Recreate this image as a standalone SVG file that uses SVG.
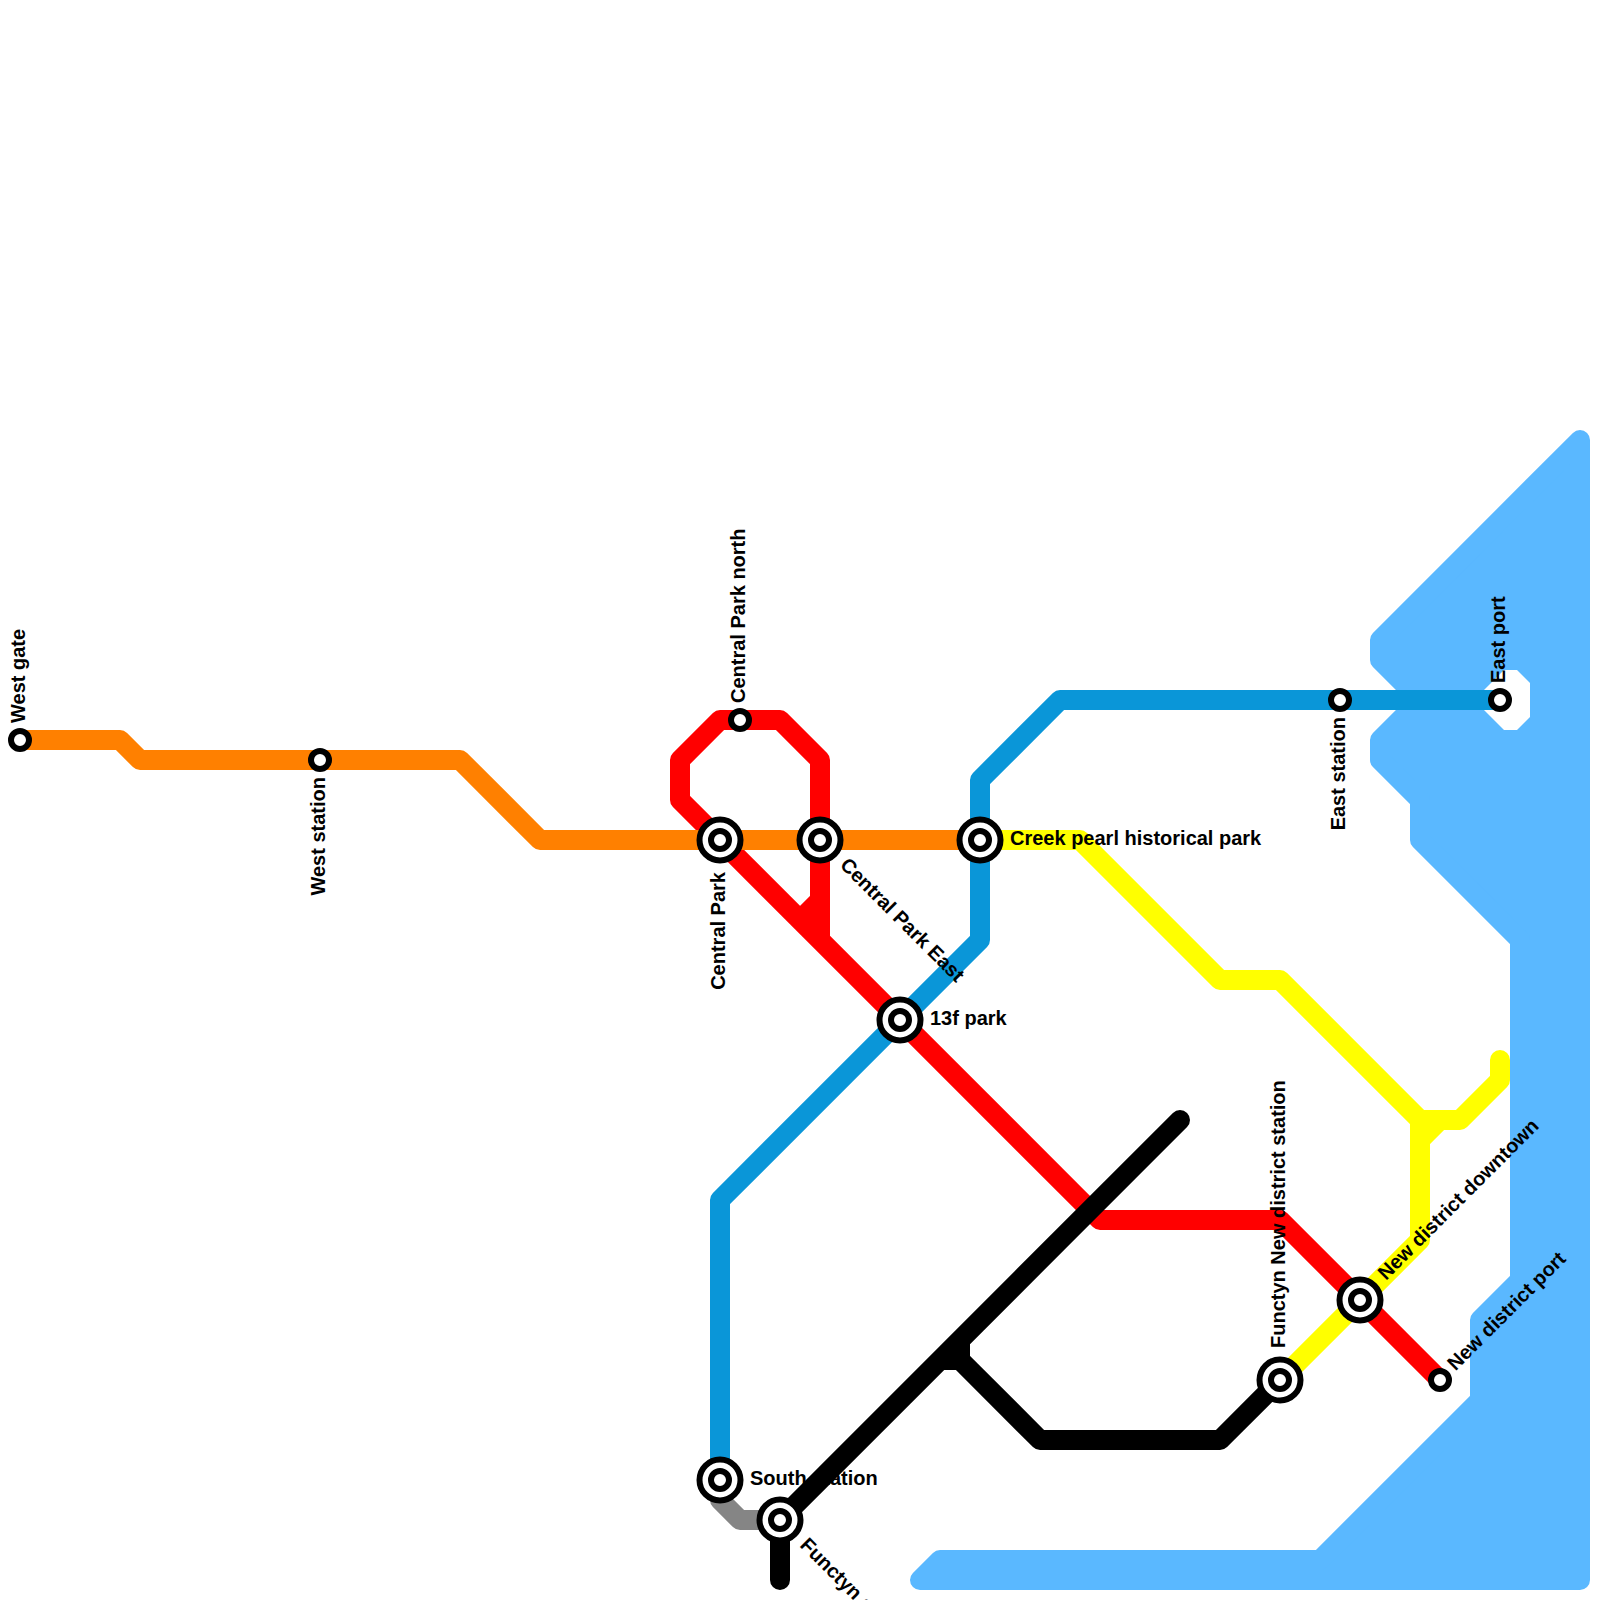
<svg xmlns="http://www.w3.org/2000/svg" width="1600" height="1600" viewBox="0 0 1600 1600">
<style>
.line{fill:none;stroke-width:20;stroke-linejoin:round;stroke-linecap:round}
.orange{stroke:#ff8000}.red{stroke:#ff0000}.blue{stroke:#0a96d8}.yellow{stroke:#ffff00}.gray{stroke:#858585}.black{stroke:#000}
.ring{fill:#fff;stroke:#000;stroke-width:6}
text{font-family:"Liberation Sans",Arial,sans-serif;font-weight:bold;font-size:20px;fill:#000}
.e{text-anchor:end}
</style>
<defs>
<g id="stop"><circle r="9" class="ring"/></g>
<g id="hub"><circle r="20.5" class="ring"/><circle r="9" class="ring"/></g>
</defs>
<rect width="1600" height="1600" fill="#fff"/>
<g id="water">
<path d="M1580 440L1380 640V660L1420 700L1380 740V760L1420 800V840L1520 940V1280L1480 1320V1400L1320 1560H940L920 1580H1580Z" fill="#5ab8ff" stroke="#5ab8ff" stroke-width="20" stroke-linejoin="round"/>
<path d="M1474 700L1504 670H1517L1530 683V717L1517 730H1504Z" fill="#fff"/>
</g>
<g id="label-south-station"><text x="750" y="1485">South station</text></g>
<g id="connectors">
<path class="line red" d="M1440 1380L1280 1220H1100L680 800V760L720 720H780L820 760V940M820 900L800 920"/>
<path class="line blue" d="M720 1480V1200L980 940V780L1060 700H1500"/>
<path class="line orange" d="M20 740H120L140 760H460L540 840H980"/>
<path class="line yellow" d="M980 840H1080L1220 980H1280L1420 1120V1240L1280 1380M1420 1120H1460L1500 1080V1060M1420 1140L1440 1120"/>
<path class="line gray" d="M720 1480V1500L740 1520H780"/>
<path class="line black" d="M780 1580V1520L1180 1120M960 1340V1360M940 1360H960L1040 1440H1220L1280 1380"/>
</g>
<g id="west-gate"><use href="#stop" x="20" y="740"/><text transform="translate(25 723) rotate(-90)">West gate</text></g>
<g id="west-station"><use href="#stop" x="320" y="760"/><text class="e" transform="translate(325 777) rotate(-90)">West station</text></g>
<g id="central-park"><use href="#hub" x="720" y="840"/><text class="e" transform="translate(725 872) rotate(-90)">Central Park</text></g>
<g id="central-park-north"><use href="#stop" x="740" y="720"/><text transform="translate(745 703) rotate(-90)">Central Park north</text></g>
<g id="central-park-east"><use href="#hub" x="820" y="840"/><text transform="translate(839 866) rotate(45)">Central Park East</text></g>
<g id="creek-pearl"><use href="#hub" x="980" y="840"/><text x="1010" y="845">Creek pearl historical park</text></g>
<g id="13f-park"><use href="#hub" x="900" y="1020"/><text x="930" y="1025">13f park</text></g>
<g id="south-station"><use href="#hub" x="720" y="1480"/></g>
<g id="functyn"><use href="#hub" x="780" y="1520"/><text transform="translate(799 1546) rotate(45)">Functyn station</text></g>
<g id="functyn-new-district"><use href="#hub" x="1280" y="1380"/><text transform="translate(1285 1348) rotate(-90)">Functyn New district station</text></g>
<g id="new-district-downtown"><use href="#hub" x="1360" y="1300"/><text transform="translate(1386 1281) rotate(-45)">New district downtown</text></g>
<g id="new-district-port"><use href="#stop" x="1440" y="1380"/><text transform="translate(1455.5 1371.5) rotate(-45)">New district port</text></g>
<g id="east-station"><use href="#stop" x="1340" y="700"/><text class="e" transform="translate(1345 717) rotate(-90)">East station</text></g>
<g id="east-port"><use href="#stop" x="1500" y="700"/><text transform="translate(1505 683) rotate(-90)">East port</text></g>
</svg>
